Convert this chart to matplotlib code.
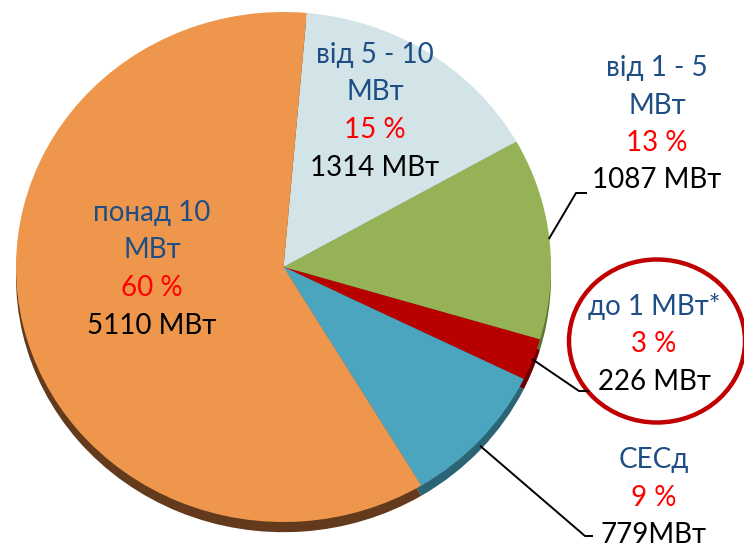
import matplotlib
matplotlib.use("Agg")
import matplotlib.pyplot as plt
import numpy as np
from matplotlib.patches import Ellipse

# data
names = ["від 5 - 10\nМВт", "від 1 - 5\nМВт", "до 1 МВт*", "СЕСд", "понад 10\nМВт"]
power = [1314, 1087, 226, 779, 5110]
units = ["1314 МВт", "1087 МВт", "226 МВт", "779МВт", "5110 МВт"]
top_colors = ["#D3E4E9", "#95B356", "#B70000", "#4BA5BE", "#EE974C"]
side_colors = ["#8FA3A8", "#5E7633", "#6E0000", "#2B6575", "#633A1C"]

plt.rcParams["font.family"] = ["Lato", "DejaVu Sans"]
W, H = 744, 549
fig = plt.figure(figsize=(W / 100, H / 100), dpi=100)

# pie geometry (pixels)
cx, cy, rx, ry = 283.5, 267.0, 267.5, 255.0
depth = 0.04
start = 85

pax = fig.add_axes([(cx - rx) / W, (H - cy - ry) / H, 2 * rx / W, 2 * ry / H])
pax.pie(power, colors=side_colors, startangle=start, counterclock=False,
        center=(0, -depth), radius=1, wedgeprops=dict(linewidth=0))
pax.pie(power, colors=top_colors, startangle=start, counterclock=False,
        radius=1, wedgeprops=dict(linewidth=0))
pax.set_aspect("auto")
pax.set_xlim(-1, 1)
pax.set_ylim(-1, 1)
pax.axis("off")

# overlay in pixel coordinates
ax = fig.add_axes([0, 0, 1, 1])
ax.set_xlim(0, W)
ax.set_ylim(H, 0)
ax.axis("off")

total = sum(power)
angles = []
a = start
for v in power:
    span = 360 * v / total
    angles.append(a - span / 2)
    a -= span

pcts = [f"{round(100 * v / total)} %" for v in power]

blue = "#1F4E85"
fs = 20
lh = 37.5

# label blocks: (x center, y of first line)
label_pos = [(375, 55), (657, 68), (654, 307), (654, 460), (152, 213)]
for i, (x, y) in enumerate(label_pos):
    lines = names[i].split("\n")
    yy = y
    for ln in lines:
        ax.text(x, yy, ln, color=blue, fontsize=fs, ha="center", va="center")
        yy += lh
    ax.text(x, yy, pcts[i], color="red", fontsize=fs, ha="center", va="center")
    yy += lh
    ax.text(x, yy, units[i], color="black", fontsize=fs, ha="center", va="center")

# leader lines
elbows = {1: (576, 193, 586), 2: (579, 391, 588), 3: (585, 536, 592)}
for i, (ex, ey, hx) in elbows.items():
    t = np.deg2rad(angles[i])
    sx = cx + rx * np.cos(t)
    sy = cy - ry * np.sin(t) + (7 if i == 3 else 0)
    ax.plot([sx, ex, hx], [sy, ey, ey], color="black", lw=1.4)

# highlight ring
ax.add_patch(Ellipse((657, 341), 176, 163, fill=False, edgecolor="#C00000", lw=3.2))

fig.savefig("out.png", dpi=100)
